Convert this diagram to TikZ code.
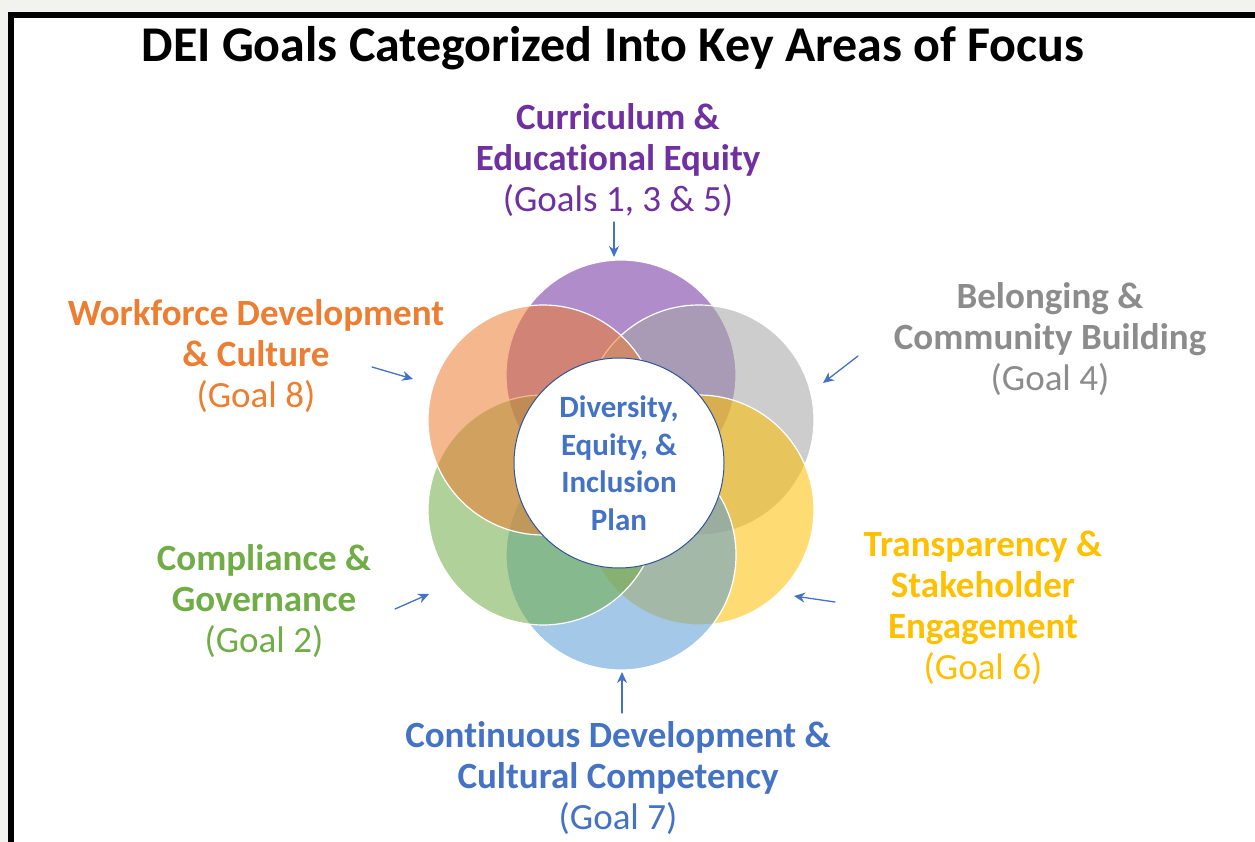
\documentclass[tikz,border=0pt]{standalone}
\usepackage{fontspec}
\setmainfont{Carlito}[RawFeature=-liga]
\usepackage{xcolor}
\usepackage{tikz}
\usetikzlibrary{arrows.meta}
\definecolor{deiPurple}{HTML}{7030A0}
\definecolor{deiGray}{HTML}{A5A5A5}
\definecolor{deiGrayText}{HTML}{8C8C8C}
\definecolor{deiOrange}{HTML}{ED7D31}
\definecolor{deiGreen}{HTML}{70AD47}
\definecolor{deiYellow}{HTML}{FFC000}
\definecolor{deiBlue}{HTML}{4472C4}
\definecolor{deiSky}{HTML}{5B9BD5}
\definecolor{deiRing}{HTML}{2F5597}
\definecolor{pageGray}{HTML}{F2F2EE}
\tikzset{
  petal/.style={circle, draw=white, line width=1.2pt, fill=#1, fill opacity=0.55, minimum size=230pt, inner sep=0pt},
  area/.style={align=center, text=#1, font=\fontsize{37}{41}\selectfont},
  pointer/.style={-{Stealth[length=11pt, width=10pt]}, deiBlue, line width=1.3pt},
}

\begin{document}
\begin{tikzpicture}[x=1pt, y=-1pt, line cap=round]

  \useasboundingbox (0,0) rectangle (1255,842);
  \fill[pageGray] (0,0) rectangle (1255,842);
  \fill[white] (11,15) rectangle (1255,842);
  \draw[line width=6pt, line cap=butt] (11,842) -- (11,15) -- (1255,15);

  \node[font=\bfseries\fontsize{50}{56}\selectfont] (title) at (613,48) {DEI Goals Categorized Into Key Areas of Focus};

  % petals round the plan
  \node[petal=deiPurple] (curr) at (621,375) {};
  \node[petal=deiGray] (belong) at (699,420) {};
  \node[petal=deiYellow] (transp) at (699,510) {};
  \node[petal=deiSky] (contin) at (621,555) {};
  \node[petal=deiGreen] (compl) at (543,510) {};
  \node[petal=deiOrange] (work) at (543,420) {};

  \node[circle, fill=white, draw=deiRing, line width=1pt, minimum size=210pt, inner sep=0pt, align=center,
        text=deiBlue, font=\bfseries\fontsize{31}{37.5}\selectfont] (plan) at (619,463)
        {Diversity,\\Equity, \&\\Inclusion\\Plan};

  % labels
  \node[area=deiPurple] (currText) at (618,160) {\textbf{Curriculum \&}\\\textbf{Educational Equity}\\(Goals 1, 3 \& 5)};
  \node[area=deiGrayText] (belongText) at (1050,339) {\textbf{Belonging \&}\\\textbf{Community Building}\\(Goal 4)};
  \node[area=deiOrange] (workText) at (256,356) {\textbf{Workforce Development}\\\textbf{\& Culture}\\(Goal 8)};
  \node[area=deiGreen] (complText) at (264,601) {\textbf{Compliance \&}\\\textbf{Governance}\\(Goal 2)};
  \node[area=deiYellow] (transpText) at (983,608) {\textbf{Transparency \&}\\\textbf{Stakeholder}\\\textbf{Engagement}\\(Goal 6)};
  \node[area=deiBlue] (continText) at (618,778) {\textbf{Continuous Development \&}\\\textbf{Cultural Competency}\\(Goal 7)};

  % pointers
  \coordinate (currFrom) at (614,222);   \coordinate (currTo) at (614,257);
  \coordinate (belongFrom) at (858,356); \coordinate (belongTo) at (823,383);
  \coordinate (workFrom) at (372,367);   \coordinate (workTo) at (413,379);
  \coordinate (complFrom) at (395,609);  \coordinate (complTo) at (429,594);
  \coordinate (transpFrom) at (835,602); \coordinate (transpTo) at (794,596);
  \coordinate (continFrom) at (622,713); \coordinate (continTo) at (622,672);
  \foreach \a in {curr, belong, work, compl, transp, contin}
    \draw[pointer] (\a From) -- (\a To);

\end{tikzpicture}
\end{document}
